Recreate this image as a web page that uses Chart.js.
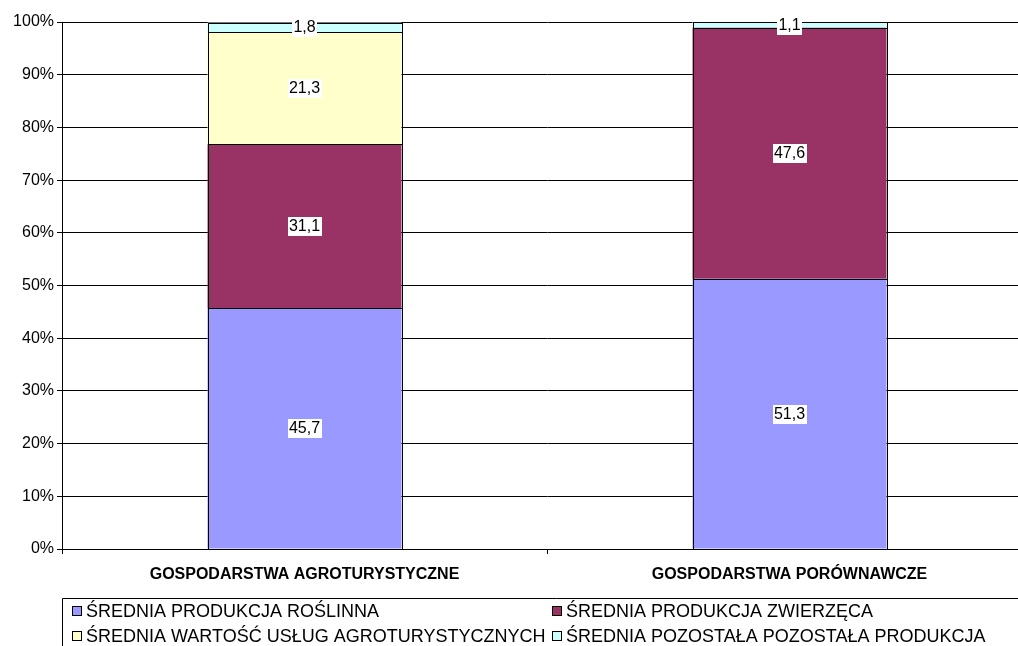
<!DOCTYPE html>
<html>
<head>
<meta charset="utf-8">
<script src="https://cdn.jsdelivr.net/npm/chart.js@4"></script>
<style>
  html, body { margin: 0; padding: 0; background: #fff; overflow: hidden; }
  #wrap { width: 1050px; height: 646px; position: relative; }
</style>
</head>
<body>
<div id="wrap"><canvas id="chart" width="1050" height="646"></canvas></div>
<script>
var categories = ['GOSPODARSTWA AGROTURYSTYCZNE', 'GOSPODARSTWA PORÓWNAWCZE'];
var roslinna = [45.7, 51.3];
var zwierzeca = [31.1, 47.6];
var uslugi = [21.3, null];
var pozostala = [1.8, 1.1];
var yTicks = [0, 10, 20, 30, 40, 50, 60, 70, 80, 90, 100];

var seriesNames = [
  'ŚREDNIA PRODUKCJA ROŚLINNA',
  'ŚREDNIA PRODUKCJA ZWIERZĘCA',
  'ŚREDNIA WARTOŚĆ USŁUG AGROTURYSTYCZNYCH',
  'ŚREDNIA POZOSTAŁA POZOSTAŁA PRODUKCJA'
];
var seriesColors = ['#9999FF', '#993366', '#FFFFCC', '#CCFFFF'];
var FONT = "'Liberation Sans', Arial, sans-serif";

function ds(i, data) {
  return {
    label: seriesNames[i],
    data: data,
    backgroundColor: seriesColors[i],
    borderWidth: 0,
    categoryPercentage: 0.4,
    barPercentage: 1.0
  };
}

// crisp black outline round every segment, then the value on a white box
var valueLabels = {
  id: 'valueLabels',
  afterDatasetsDraw: function (chart) {
    var ctx = chart.ctx;
    ctx.save();
    ctx.strokeStyle = '#000';
    ctx.lineWidth = 1;
    chart.data.datasets.forEach(function (d, di) {
      chart.getDatasetMeta(di).data.forEach(function (el, i) {
        if (d.data[i] == null) return;
        var x0 = Math.round(el.x - el.width / 2) + 0.5;
        var x1 = Math.round(el.x + el.width / 2) + 0.5;
        var y0 = Math.round(el.y) + 0.5;
        var y1 = Math.round(el.base) + 0.5;
        ctx.strokeRect(x0, y0, x1 - x0, y1 - y0);
      });
    });
    ctx.font = '16px ' + FONT;
    ctx.textAlign = 'center';
    ctx.textBaseline = 'middle';
    chart.data.datasets.forEach(function (d, di) {
      chart.getDatasetMeta(di).data.forEach(function (el, i) {
        var v = d.data[i];
        if (v == null) return;
        var txt = v.toFixed(1).replace('.', ',');
        var y = Math.round((el.y + el.base) / 2);
        var w = Math.ceil(ctx.measureText(txt).width) + 2;
        ctx.fillStyle = '#fff';
        ctx.fillRect(Math.round(el.x - w / 2), y - 9, w, 19);
        ctx.fillStyle = '#000';
        ctx.fillText(txt, el.x, y + 1);
      });
    });
    ctx.restore();
  }
};

// legend box below the chart, two columns
var boxLegend = {
  id: 'boxLegend',
  afterDraw: function (chart) {
    var ctx = chart.ctx;
    var left = 62, top = 598;
    ctx.save();
    ctx.strokeStyle = '#000';
    ctx.lineWidth = 1;
    ctx.beginPath();
    ctx.moveTo(left + 0.5, chart.height);
    ctx.lineTo(left + 0.5, top + 0.5);
    ctx.lineTo(chart.width, top + 0.5);
    ctx.stroke();
    ctx.font = '18px ' + FONT;
    ctx.textBaseline = 'middle';
    ctx.textAlign = 'left';
    var cols = [72, 552];
    var rows = [611, 636];
    seriesNames.forEach(function (name, i) {
      var x = cols[i % 2], y = rows[Math.floor(i / 2)];
      ctx.fillStyle = seriesColors[i];
      ctx.fillRect(x + 0.5, y - 4.5, 9, 9);
      ctx.strokeRect(x + 0.5, y - 4.5, 9, 9);
      ctx.fillStyle = '#000';
      ctx.fillText(name, x + 14, y + 1);
    });
    ctx.restore();
  }
};

new Chart(document.getElementById('chart'), {
  type: 'bar',
  data: {
    labels: categories,
    datasets: [ds(0, roslinna), ds(1, zwierzeca), ds(2, uslugi), ds(3, pozostala)]
  },
  options: {
    responsive: false,
    animation: false,
    layout: { padding: { top: 22, right: 18, bottom: 0, left: 0 } },
    plugins: { legend: { display: false }, tooltip: { enabled: false } },
    scales: {
      x: {
        stacked: true,
        afterFit: function (s) { s.height = 97; },
        grid: { drawOnChartArea: false, drawTicks: true, tickLength: 5, color: '#000', offset: true },
        border: { color: '#000' },
        ticks: { color: '#000', padding: 11, maxRotation: 0, font: { family: FONT, size: 16, weight: 'bold' } }
      },
      y: {
        stacked: true,
        min: 0,
        max: 100,
        afterFit: function (s) { s.width = 62; },
        afterBuildTicks: function (s) { s.ticks = yTicks.map(function (v) { return { value: v }; }); },
        grid: { color: '#000', tickLength: 5 },
        border: { color: '#000' },
        ticks: {
          color: '#000',
          padding: 3,
          font: { family: FONT, size: 16 },
          callback: function (v) { return v + '%'; }
        }
      }
    }
  },
  plugins: [valueLabels, boxLegend]
});
</script>
</body>
</html>
